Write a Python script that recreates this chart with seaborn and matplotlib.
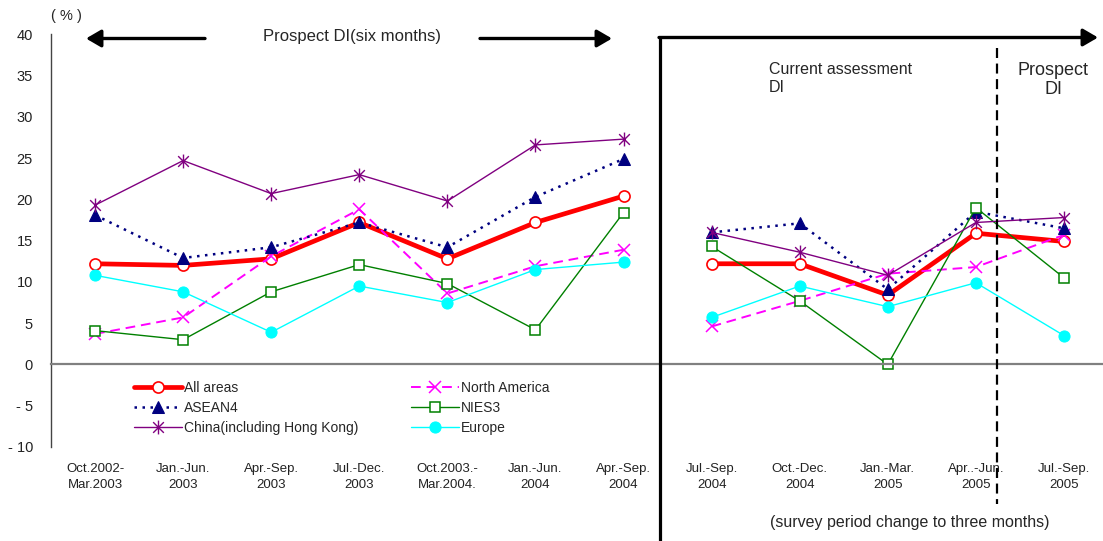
import numpy as np
import pandas as pd
import matplotlib
matplotlib.use("Agg")
import matplotlib.pyplot as plt
import matplotlib.transforms as mtransforms
from matplotlib.path import Path
import seaborn as sns

# survey periods (12 categories on one axis)
periods = ["Oct.2002-\nMar.2003", "Jan.-Jun.\n2003", "Apr.-Sep.\n2003", "Jul.-Dec.\n2003",
           "Oct.2003.-\nMar.2004.", "Jan.-Jun.\n2004", "Apr.-Sep.\n2004",
           "Jul.-Sep.\n2004", "Oct.-Dec.\n2004", "Jan.-Mar.\n2005", "Apr..-Jun.\n2005",
           "Jul.-Sep.\n2005"]
# first 7 are six-month surveys, last 5 are three-month surveys
section = ["six"] * 7 + ["three"] * 5

all_areas = [12.2, 12.0, 12.8, 17.2, 12.8, 17.2, 20.4, 12.2, 12.2, 8.4, 15.9, 14.9]
north_america = [3.7, 5.7, 13.1, 18.8, 8.6, 11.9, 13.9, 4.6, 7.7, 11.0, 11.8, 15.7]
asean4 = [18.1, 12.9, 14.2, 17.2, 14.2, 20.3, 24.9, 16.0, 17.1, 9.1, 18.5, 16.5]
nies3 = [4.1, 3.0, 8.8, 12.1, 9.8, 4.2, 18.4, 14.3, 7.7, 0.0, 19.0, 10.5]
china = [19.3, 24.7, 20.7, 23.0, 19.8, 26.6, 27.3, 16.0, 13.6, 10.8, 17.2, 17.8]
europe = [10.8, 8.8, 3.9, 9.5, 7.5, 11.5, 12.4, 5.7, 9.5, 7.0, 9.9, 3.5]

yticks = [-10, -5, 0, 5, 10, 15, 20, 25, 30, 35, 40]
ytick_labels = ["- 10", "- 5", "0", "5", "10", "15", "20", "25", "30", "35", "40"]

sns.set_theme(style="white")
plt.rcParams["font.family"] = ["Liberation Sans", "DejaVu Sans"]

W, H = 1103, 541
fig = plt.figure(figsize=(W / 100, H / 100), dpi=100)
ax = fig.add_axes([51 / W, 1 - 447 / H, (1108 - 51) / W, (447 - 34.3) / H])

# excel style star: an X with a vertical bar
star = Path([(-1, -1), (1, 1), (-1, 1), (1, -1), (0, -1.3), (0, 1.3)],
            [Path.MOVETO, Path.LINETO, Path.MOVETO, Path.LINETO, Path.MOVETO, Path.LINETO])

x = np.arange(len(periods))
series = [
    ("All areas", all_areas, dict(color="#FF0000", lw=3.4, ls="-", marker="o", ms=8,
                                  mfc="white", mec="#FF0000", mew=1.2)),
    ("North America", north_america, dict(color="#FF00FF", lw=1.4, ls=(0, (5, 3)), marker="x",
                                          ms=8, mec="#FF00FF", mew=1.1)),
    ("ASEAN4", asean4, dict(color="#000080", lw=1.8, ls=(0, (1, 2.2)), marker="^", ms=8,
                            mfc="#000080", mec="#000080")),
    ("NIES3", nies3, dict(color="#008000", lw=1.0, ls="-", marker="s", ms=6.5,
                          mfc="white", mec="#008000", mew=1.1)),
    ("China(including Hong Kong)", china, dict(color="#800080", lw=1.0, ls="-", marker=star,
                                               ms=10, mec="#800080", mew=1.0)),
    ("Europe", europe, dict(color="#00FFFF", lw=1.0, ls="-", marker="o", ms=8,
                            mfc="#00FFFF", mec="#00FFFF")),
]
handles = {}
for name, vals, kw in series:
    df = pd.DataFrame({"x": x, "value": vals, "section": section})
    sns.lineplot(data=df, x="x", y="value", units="section", estimator=None, ax=ax,
                 sort=False, legend=False, **kw)
    handles[name] = ax.lines[-1]

ax.set_xlim(-0.5, len(periods) - 0.5)
ax.set_ylim(-10, 40)
ax.set_xticks(np.arange(-0.5, len(periods), 1.0))
ax.set_xticklabels([])
ax.set_yticks(yticks)
ax.set_yticklabels(ytick_labels, fontsize=10.5, color="#222222")
ax.tick_params(axis="x", direction="in", length=3, width=1, color="#333333")
ax.tick_params(axis="y", direction="in", length=3, width=1, color="#333333", pad=13)
for s in ["top", "right"]:
    ax.spines[s].set_visible(False)
ax.spines["bottom"].set_position(("data", 0))
ax.spines["bottom"].set_color("#808080")
ax.spines["bottom"].set_linewidth(1.6)
ax.spines["left"].set_color("#444444")
ax.spines["left"].set_linewidth(1.0)
ax.set_xlabel("")
ax.set_ylabel("")

# legend in two columns, order by rows like the original
order = ["All areas", "ASEAN4", "China(including Hong Kong)",
         "North America", "NIES3", "Europe"]
fig.legend([handles[n] for n in order], order, ncol=2, loc="upper left",
           bbox_to_anchor=(134 / W, 1 - 381 / H), frameon=False, fontsize=10,
           borderpad=0, borderaxespad=0, handlelength=3.45, handletextpad=0.15,
           labelspacing=0.42, columnspacing=3.8, numpoints=1)

# overlay in pixel coords for the annotations
ov = fig.add_axes([0, 0, 1, 1], zorder=5)
ov.set_xlim(0, W)
ov.set_ylim(H, 0)
ov.axis("off")
ov.patch.set_alpha(0)

# category labels under the plot
blend = mtransforms.blended_transform_factory(ax.transData, ov.transData)
for i, lab in enumerate(periods):
    ax.text(i, 477, lab, transform=blend, ha="center", va="center", fontsize=9.5,
            linespacing=1.45, color="#222222", clip_on=False)

arrow = dict(arrowstyle="-|>,head_length=0.6,head_width=0.35", lw=2.4, color="black",
             shrinkA=0, shrinkB=0, mutation_scale=15)
ov.annotate("", xy=(86, 38.5), xytext=(205, 38.5), arrowprops=arrow)
ov.annotate("", xy=(612, 38.5), xytext=(480, 38.5), arrowprops=arrow)
ov.text(352, 37, "Prospect DI(six months)", ha="center", va="center", fontsize=12)

ov.plot([660, 660], [37.5, H], color="black", lw=2.3, solid_capstyle="butt")
ov.annotate("", xy=(1098, 37.5), xytext=(659, 37.5), arrowprops=arrow)
ov.plot([997, 997], [48, 504], color="black", lw=1.6, ls=(0, (4.5, 2.5)))

ov.text(769, 79, "Current assessment\nDI", ha="left", va="center", fontsize=11.5,
        linespacing=1.25)
ov.text(1053, 80, "Prospect\nDI", ha="center", va="center", fontsize=13, linespacing=1.2)
ov.text(910, 523, "(survey period change to three months)", ha="center", va="center",
        fontsize=11.5)
ov.text(66, 16, "( % )", ha="center", va="center", fontsize=10.5)

fig.savefig("out.png", dpi=100)
